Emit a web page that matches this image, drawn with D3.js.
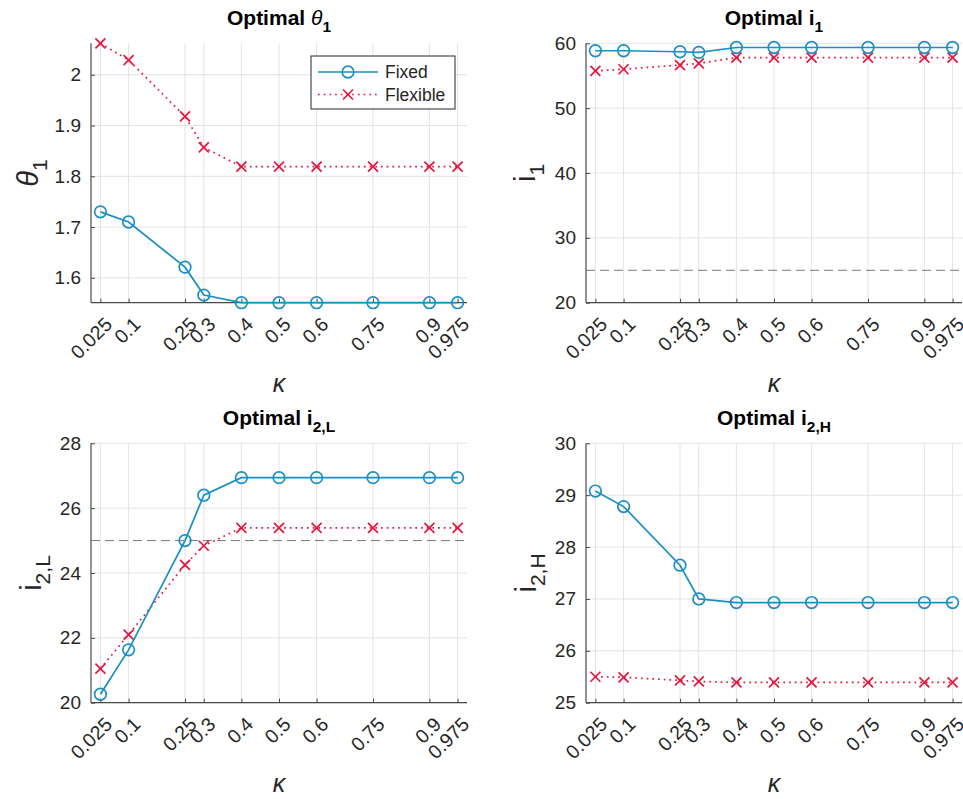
<!DOCTYPE html>
<html>
<head>
<meta charset="utf-8">
<script src="https://cdn.jsdelivr.net/npm/d3@7"></script>
<style>
  body { margin: 0; background: #fff; }
  text { font-family: "Liberation Sans", Arial, sans-serif; fill: #262626; }
</style>
</head>
<body>
<div id="chart"></div>
<script>
// kappa grid and tick labels
const kappa = [0.025, 0.1, 0.25, 0.3, 0.4, 0.5, 0.6, 0.75, 0.9, 0.975];
const kappaLabels = ["0.025", "0.1", "0.25", "0.3", "0.4", "0.5", "0.6", "0.75", "0.9", "0.975"];

// series
const theta1Fixed = [1.730, 1.710, 1.621, 1.566, 1.551, 1.551, 1.551, 1.551, 1.551, 1.551];
const theta1Flex = [2.062, 2.029, 1.918, 1.857, 1.819, 1.819, 1.819, 1.819, 1.819, 1.819];
const i1Fixed = [58.85, 58.85, 58.7, 58.6, 59.35, 59.35, 59.35, 59.35, 59.35, 59.35];
const i1Flex = [55.75, 56.0, 56.65, 56.9, 57.8, 57.8, 57.8, 57.8, 57.8, 57.8];
const i2LFixed = [20.26, 21.63, 25.0, 26.4, 26.94, 26.94, 26.94, 26.94, 26.94, 26.94];
const i2LFlex = [21.05, 22.1, 24.25, 24.84, 25.39, 25.39, 25.39, 25.39, 25.39, 25.39];
const i2HFixed = [29.08, 28.78, 27.65, 27.0, 26.93, 26.93, 26.93, 26.93, 26.93, 26.93];
const i2HFlex = [25.5, 25.49, 25.43, 25.41, 25.39, 25.39, 25.39, 25.39, 25.39, 25.39];

// y ticks
const theta1Ticks = [1.6, 1.7, 1.8, 1.9, 2];
const i1Ticks = [20, 30, 40, 50, 60];
const i2LTicks = [20, 22, 24, 26, 28];
const i2HTicks = [25, 26, 27, 28, 29, 30];

const seriesNames = ["Fixed", "Flexible"];
const refLevel = 25;

const W = 963, H = 799;
const BLUE = "#1a8fc2", RED = "#e5173f";

const svg = d3.select("#chart").append("svg").attr("width", W).attr("height", H);

const panels = [
  { left: 91, right: 467, top: 43.3, bottom: 302.7, fixed: theta1Fixed, flex: theta1Flex,
    yDomain: [d3.min(theta1Fixed), d3.max(theta1Flex)], yTicks: theta1Ticks, yFmt: d3.format(""),
    title: [["Optimal ", "b"], ["θ", "i"], ["1", "sub"]], ylab: [["θ", "i"], ["1", "sub"]],
    ylabX: 38, ref: false, legend: true },
  { left: 586, right: 962, top: 43.3, bottom: 302.7, fixed: i1Fixed, flex: i1Flex,
    yDomain: [20, 60], yTicks: i1Ticks, yFmt: d3.format("d"),
    title: [["Optimal i", "b"], ["1", "sub"]], ylab: [["i", "n"], ["1", "sub"]],
    ylabX: 535, ref: true },
  { left: 91, right: 467, top: 443.3, bottom: 702.7, fixed: i2LFixed, flex: i2LFlex,
    yDomain: [20, 28], yTicks: i2LTicks, yFmt: d3.format("d"),
    title: [["Optimal i", "b"], ["2,L", "sub"]], ylab: [["i", "n"], ["2,L", "sub"]],
    ylabX: 41, ref: true },
  { left: 586, right: 962, top: 443.3, bottom: 702.7, fixed: i2HFixed, flex: i2HFlex,
    yDomain: [25, 30], yTicks: i2HTicks, yFmt: d3.format("d"),
    title: [["Optimal i", "b"], ["2,H", "sub"]], ylab: [["i", "n"], ["2,H", "sub"]],
    ylabX: 536, ref: false }
];

// write rich text (bold / italic / subscript pieces) into a text node
function richText(sel, parts, size, subSize, bold) {
  let shifted = false;
  parts.forEach(([t, kind]) => {
    const ts = sel.append("tspan").text(t);
    if (kind === "sub") {
      ts.attr("font-size", subSize).attr("dy", shifted ? 0 : size * 0.3);
      shifted = true;
    } else {
      ts.attr("font-size", size);
      if (shifted) { ts.attr("dy", -size * 0.3); shifted = false; }
    }
    if (kind === "i") ts.attr("font-style", "italic").attr("font-weight", "normal");
    else if (bold) ts.attr("font-weight", "bold");
  });
}

function crossPath(s) {
  return `M${-s},${-s}L${s},${s}M${-s},${s}L${s},${-s}`;
}

panels.forEach((p) => {
  const x = d3.scaleLinear().domain([0, 1]).range([p.left, p.right]);
  const y = d3.scaleLinear().domain(p.yDomain).range([p.bottom, p.top]);
  const g = svg.append("g");

  // grid
  g.append("g").selectAll("line").data(kappa).join("line")
    .attr("x1", (d) => x(d)).attr("x2", (d) => x(d))
    .attr("y1", p.top).attr("y2", p.bottom)
    .attr("stroke", "#e3e3e3").attr("stroke-width", 1);
  g.append("g").selectAll("line").data(p.yTicks).join("line")
    .attr("x1", p.left).attr("x2", p.right)
    .attr("y1", (d) => y(d)).attr("y2", (d) => y(d))
    .attr("stroke", "#e3e3e3").attr("stroke-width", 1);

  if (p.ref) {
    g.append("line")
      .attr("x1", p.left).attr("x2", p.right)
      .attr("y1", y(refLevel)).attr("y2", y(refLevel))
      .attr("stroke", "#7a7a7a").attr("stroke-width", 1)
      .attr("stroke-dasharray", "9,5");
  }

  // axes
  const xAxis = g.append("g").attr("transform", `translate(0,${p.bottom})`)
    .call(d3.axisBottom(x).tickValues(kappa).tickSizeInner(-4).tickSizeOuter(0).tickFormat(""));
  const yAxis = g.append("g").attr("transform", `translate(${p.left},0)`)
    .call(d3.axisLeft(y).tickValues(p.yTicks).tickSizeInner(-4).tickSizeOuter(0).tickFormat(""));
  [xAxis, yAxis].forEach((a) => {
    a.select(".domain").attr("stroke", "#4a4a4a").attr("stroke-width", 1.2);
    a.selectAll(".tick line").attr("stroke", "#4a4a4a");
  });
  // axis lines run the full box
  xAxis.select(".domain").attr("d", `M${p.left},0H${p.right}`);
  yAxis.select(".domain").attr("d", `M0,${p.top}V${p.bottom}`);

  // tick labels
  g.append("g").selectAll("text").data(kappa).join("text")
    .attr("transform", (d) => `translate(${x(d) + 8},${p.bottom + 18}) rotate(-45)`)
    .attr("text-anchor", "end").attr("dominant-baseline", "central")
    .attr("font-size", 19.5)
    .text((d, i) => kappaLabels[i]);
  g.append("g").selectAll("text").data(p.yTicks).join("text")
    .attr("x", p.left - 10).attr("y", (d) => y(d))
    .attr("text-anchor", "end").attr("dominant-baseline", "central")
    .attr("font-size", 19)
    .text((d) => p.yFmt(d));

  // lines
  const line = d3.line().x((d) => x(d[0])).y((d) => y(d[1]));
  const fixedPts = kappa.map((k, i) => [k, p.fixed[i]]);
  const flexPts = kappa.map((k, i) => [k, p.flex[i]]);

  g.append("path").datum(flexPts).attr("d", line)
    .attr("fill", "none").attr("stroke", RED).attr("stroke-width", 1.7)
    .attr("stroke-dasharray", "1.7,4");
  g.append("g").selectAll("path").data(flexPts).join("path")
    .attr("transform", (d) => `translate(${x(d[0])},${y(d[1])})`)
    .attr("d", crossPath(5)).attr("stroke", RED).attr("stroke-width", 1.7).attr("fill", "none");

  g.append("path").datum(fixedPts).attr("d", line)
    .attr("fill", "none").attr("stroke", BLUE).attr("stroke-width", 1.7);
  g.append("g").selectAll("circle").data(fixedPts).join("circle")
    .attr("cx", (d) => x(d[0])).attr("cy", (d) => y(d[1])).attr("r", 5.8)
    .attr("fill", "none").attr("stroke", BLUE).attr("stroke-width", 1.7);

  // title
  const cx = (p.left + p.right) / 2;
  const title = g.append("text").attr("x", cx).attr("y", p.top - 18)
    .attr("text-anchor", "middle").style("fill", "#000");
  richText(title, p.title, 21, 15.5, true);

  // axis labels
  g.append("text").attr("x", cx).attr("y", p.bottom + 89)
    .attr("text-anchor", "middle").attr("font-size", 25).attr("font-style", "italic")
    .attr("font-family", "Liberation Serif, serif").text("κ");
  const yl = g.append("text")
    .attr("transform", `translate(${p.ylabX},${(p.top + p.bottom) / 2}) rotate(-90)`)
    .attr("text-anchor", "middle");
  richText(yl, p.ylab, 29, 21, false);

  if (p.legend) {
    const lg = g.append("g").attr("transform", "translate(311,56)");
    lg.append("rect").attr("width", 144).attr("height", 53)
      .attr("fill", "#fff").attr("stroke", "#262626").attr("stroke-width", 1);
    seriesNames.forEach((name, i) => {
      const yy = 16 + i * 22.5;
      const col = i === 0 ? BLUE : RED;
      lg.append("line").attr("x1", 7).attr("x2", 67).attr("y1", yy).attr("y2", yy)
        .attr("stroke", col).attr("stroke-width", 1.7)
        .attr("stroke-dasharray", i === 0 ? null : "1.7,4");
      if (i === 0) {
        lg.append("circle").attr("cx", 37).attr("cy", yy).attr("r", 5.8)
          .attr("fill", "none").attr("stroke", col).attr("stroke-width", 1.7);
      } else {
        lg.append("path").attr("transform", `translate(37,${yy})`).attr("d", crossPath(5))
          .attr("stroke", col).attr("stroke-width", 1.7);
      }
      lg.append("text").attr("x", 74).attr("y", yy).attr("dominant-baseline", "central")
        .attr("font-size", 17.5).text(name);
    });
  }
});
</script>
</body>
</html>
